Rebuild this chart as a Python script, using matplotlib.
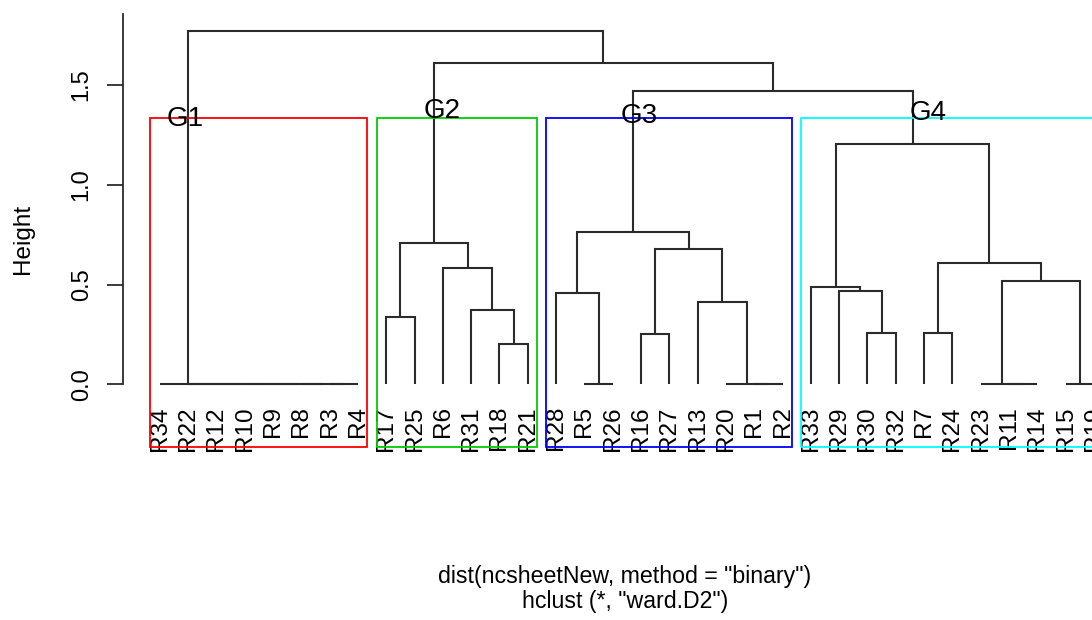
import matplotlib
matplotlib.use("Agg")
import matplotlib.pyplot as plt
from matplotlib.patches import Rectangle

# ---------------- data ----------------
leaf_labels = ["R34", "R22", "R12", "R10", "R9", "R8", "R3", "R4",
               "R17", "R25", "R6", "R31", "R18", "R21",
               "R28", "R5", "R26", "R16", "R27", "R13", "R20", "R1", "R2",
               "R33", "R29", "R30", "R32", "R7", "R24", "R23", "R11", "R14", "R15", "R19"]

# merges: children are leaf names or "m<k>" (1-based index of earlier merge)
merge_left = ["R3", "R8", "R9", "R10", "R12", "R22", "R34",
              "R5", "R1", "R20",
              "R11", "R23", "R15",
              "R18", "R31", "R6", "R17", "m17",
              "R28", "R16", "R13", "m20", "m19",
              "R30", "R29", "R33", "R7", "m12", "m27", "m26",
              "m23", "m18", "m7"]
merge_right = ["R4", "m1", "m2", "m3", "m4", "m5", "m6",
               "R26", "R2", "m9",
               "R14", "m11", "R19",
               "R21", "m14", "m15", "R25", "m16",
               "m8", "R27", "m10", "m21", "m22",
               "R32", "m24", "m25", "R24", "m13", "m28", "m29",
               "m30", "m31", "m32"]
merge_height = [0, 0, 0, 0, 0, 0, 0,
                0, 0, 0,
                0, 0, 0,
                0.202, 0.372, 0.583, 0.337, 0.707,
                0.457, 0.252, 0.412, 0.678, 0.763,
                0.257, 0.467, 0.487, 0.257, 0.518, 0.608, 1.204,
                1.468, 1.608, 1.768]

cluster_sizes = [8, 6, 9, 11]
cluster_colors = ["#FF0000", "#00CD00", "#0000FF", "#00FFFF"]
group_names = ["G1", "G2", "G3", "G4"]
group_x = [1.88, 10.98, 17.94, 28.13]
group_y = [1.329, 1.369, 1.344, 1.359]

y_ticks = [0.0, 0.5, 1.0, 1.5]
y_tick_labels = ["0.0", "0.5", "1.0", "1.5"]
y_label = "Height"
sub_lines = ['dist(ncsheetNew, method = "binary")', 'hclust (*, "ward.D2")']

# ---------------- figure ----------------
FONT = "Liberation Sans"
plt.rcParams["font.family"] = [FONT, "DejaVu Sans"]

W, H = 1092, 620
fig = plt.figure(figsize=(W / 100, H / 100), dpi=100)
ax_left, ax_right = 122.5, 1131.2
ax_top, ax_bot = 14, 447
ax = fig.add_axes([ax_left / W, 1 - ax_bot / H, (ax_right - ax_left) / W, (ax_bot - ax_top) / H])
ax.set_xlim(-0.32, 35.32)
ax.set_ylim(-0.314, 1.855)

line_col = "#2b2b2b"
n = len(leaf_labels)
pos = {lab: i + 1 for i, lab in enumerate(leaf_labels)}
hgt = {lab: 0.0 for lab in leaf_labels}
for k, (a, b, h) in enumerate(zip(merge_left, merge_right, merge_height), start=1):
    xa, xb = pos[a], pos[b]
    ha, hb = hgt[a], hgt[b]
    ax.plot([xa, xa, xb, xb], [ha, h, h, hb], color=line_col, lw=1.5,
            solid_capstyle="butt", solid_joinstyle="miter", clip_on=False)
    pos["m%d" % k] = (xa + xb) / 2
    hgt["m%d" % k] = h

# leaf labels
for lab in leaf_labels:
    ax.text(pos[lab], -0.109, lab, rotation=90, ha="center", va="top",
            fontsize=17.5, color="black", clip_on=False)

# rect.hclust style boxes
sorted_h = sorted(merge_height, reverse=True)
k = len(cluster_sizes)
box_top = (sorted_h[k - 2] + sorted_h[k - 1]) / 2
start = 0
for size, col in zip(cluster_sizes, cluster_colors):
    x0 = start + 0.66
    x1 = start + size + 0.33
    ax.add_patch(Rectangle((x0, -0.314), x1 - x0, box_top + 0.314, fill=False,
                           edgecolor=col, lw=1.3, clip_on=False, zorder=3))
    start += size

for name, gx, gy in zip(group_names, group_x, group_y):
    ax.text(gx, gy, name, ha="center", va="center", fontsize=20, color="black", zorder=4)

# axes styling
for s in ["top", "right", "bottom"]:
    ax.spines[s].set_visible(False)
ax.spines["left"].set_bounds(0, 1.855)
ax.spines["left"].set_color(line_col)
ax.spines["left"].set_linewidth(1.3)
ax.set_xticks([])
ax.set_yticks(y_ticks)
ax.set_yticklabels(y_tick_labels, rotation=90, va="center", fontsize=17)
ax.tick_params(axis="y", length=11.5, width=1.3, color=line_col, pad=10)

fig.text(23 / W, 1 - 239 / H, y_label, rotation=90, ha="center", va="center", fontsize=17.5)
fig.text(625 / W, 1 - 582.7 / H, sub_lines[0], ha="center", va="baseline", fontsize=16.7)
fig.text(625 / W, 1 - 608.3 / H, sub_lines[1], ha="center", va="baseline", fontsize=16.7)

fig.savefig("out.png", dpi=100)
